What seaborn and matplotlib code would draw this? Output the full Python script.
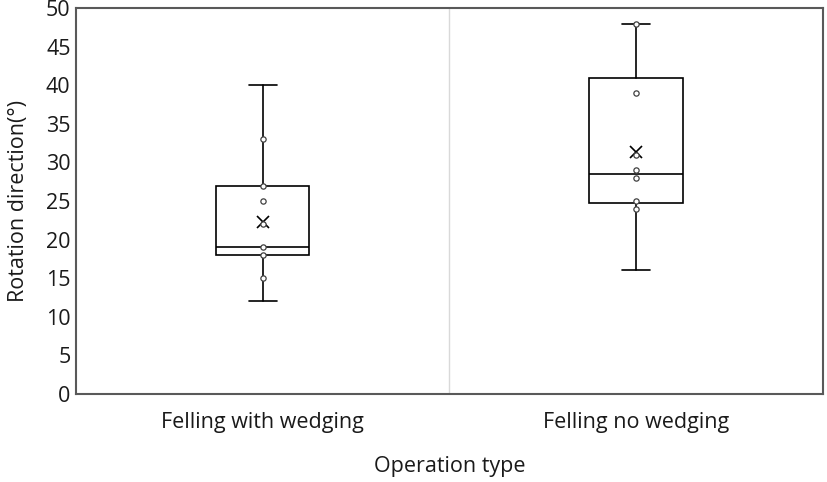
import numpy as np
import pandas as pd
import matplotlib
matplotlib.use("Agg")
import matplotlib.pyplot as plt
import seaborn as sns

# box statistics
groups = ["Felling with wedging", "Felling no wedging"]
whisker_low = [12, 16]
q1 = [18, 24.7]
median = [19, 28.5]
q3 = [27, 41]
whisker_high = [40, 48]
mean = [22.3, 31.3]

# inner points shown inside the boxes
points_wedging = [15, 18, 19, 22, 25, 27, 33]
points_no_wedging = [24, 25, 28, 29, 31, 39, 48]

sns.set_theme(style="white")
plt.rcParams["font.family"] = ["Open Sans", "DejaVu Sans"]

fig = plt.figure(figsize=(8.27, 4.82), dpi=100)
ax = fig.add_axes([0.092, 0.183, 0.903, 0.8])

stats = []
for i, g in enumerate(groups):
    stats.append({
        "label": g, "whislo": whisker_low[i], "q1": q1[i], "med": median[i],
        "q3": q3[i], "whishi": whisker_high[i], "mean": mean[i], "fliers": [],
    })

ax.bxp(stats, positions=[0, 1], widths=0.25, showmeans=True, patch_artist=True,
       boxprops=dict(facecolor="white", edgecolor="black", linewidth=1.2),
       medianprops=dict(color="black", linewidth=1.2),
       whiskerprops=dict(color="black", linewidth=1.2),
       capprops=dict(color="black", linewidth=1.2),
       capwidths=0.075,
       meanprops=dict(marker="x", markeredgecolor="black", markersize=9,
                      markeredgewidth=1.2))

df = pd.DataFrame({
    "group": [groups[0]] * len(points_wedging) + [groups[1]] * len(points_no_wedging),
    "value": points_wedging + points_no_wedging,
})
sns.stripplot(data=df, x="group", y="value", jitter=False, ax=ax,
              marker="o", size=3.8, color="white", edgecolor="#404040",
              linewidth=0.9, zorder=5)

ax.axvline(0.5, color="#d9d9d9", linewidth=1, zorder=0)

ax.set_xlim(-0.5, 1.5)
ax.set_ylim(0, 50)
ax.set_yticks(np.arange(0, 51, 5))
ax.set_xticks([0, 1])
ax.set_xticklabels(groups)
ax.tick_params(axis="both", labelsize=15.5, length=0, colors="#1a1a1a")
ax.tick_params(axis="x", pad=13)
ax.tick_params(axis="y", pad=4)

for s in ax.spines.values():
    s.set_visible(True)
    s.set_color("#595959")
    s.set_linewidth(1.5)

ax.set_xlabel("Operation type", fontsize=15.5, labelpad=17, color="#1a1a1a")
ax.set_ylabel("Rotation direction(°)", fontsize=15.5, labelpad=12, color="#1a1a1a")

fig.savefig("out.png", dpi=100)
